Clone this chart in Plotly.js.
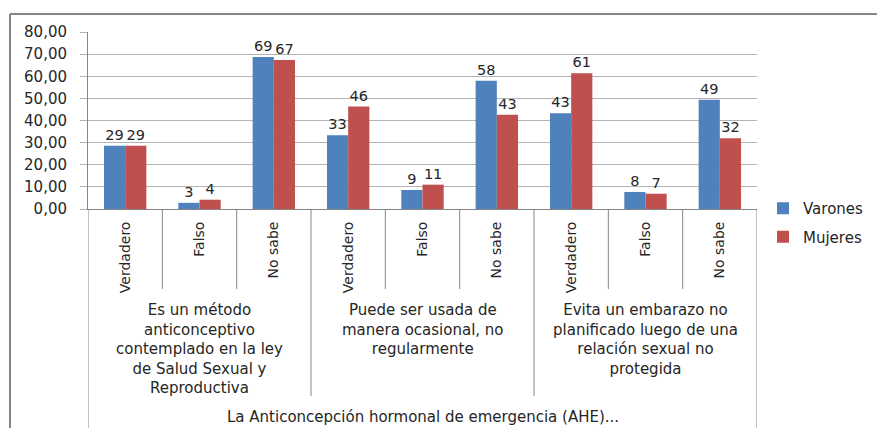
<!DOCTYPE html>
<html>
<head>
<meta charset="utf-8">
<script src="https://cdn.plot.ly/plotly-3.0.1.min.js"></script>
<style>html,body{margin:0;padding:0;background:#fff;}#chart{width:877px;height:428px;}</style>
</head>
<body>
<div id="chart"></div>
<script>
// ---- data ----
const subLabels = ['Verdadero', 'Falso', 'No sabe'];
const groupLabels = [
  'Es un método<br>anticonceptivo<br>contemplado en la ley<br>de Salud Sexual y<br>Reproductiva',
  'Puede ser usada de<br>manera ocasional, no<br>regularmente',
  'Evita un embarazo no<br>planificado luego de una<br>relación sexual no<br>protegida'
];
const outerLabel = 'La Anticoncepción hormonal de emergencia (AHE)...';
const seriesNames = ['Varones', 'Mujeres'];
const varones = [28.6, 2.8, 68.7, 33.3, 8.6, 58.0, 43.3, 7.7, 49.4];
const mujeres = [28.6, 4.2, 67.4, 46.3, 11.0, 42.6, 61.4, 6.9, 32.0];
const yTicks = [0, 10, 20, 30, 40, 50, 60, 70, 80];

// ---- derived ----
const n = subLabels.length * groupLabels.length;
const xIdx = Array.from({length: n}, (_, i) => i);
const tickText = xIdx.map(i => subLabels[i % subLabels.length]);
const yTickText = yTicks.map(v => v.toFixed(2).replace('.', ','));

const FONT = 'DejaVu Sans, Verdana, sans-serif';
const TXT = '#262626';
const AX = '#868686';
const GRID = '#b3b3b3';

// plot geometry (px) used for converting decoration into paper coords
const W = 877, H = 428, L = 88, R = 120, T = 32, B = 219;
const pw = W - L - R, ph = H - T - B;
const py = p => (H - B - p) / ph;   // pixel y -> paper y
const px = p => (p - L) / pw;       // pixel x -> paper x

const traces = [
  {type: 'bar', name: seriesNames[0], x: xIdx, y: varones, marker: {color: '#4F81BD'},
   legendgroup: 'a', text: varones.map(v => Math.round(v)), textposition: 'outside',
   textfont: {family: FONT, size: 14.5, color: TXT}, cliponaxis: false, hoverinfo: 'y'},
  {type: 'bar', name: seriesNames[1], x: xIdx, y: mujeres, marker: {color: '#C0504D'},
   legendgroup: 'b', text: mujeres.map(v => Math.round(v)), textposition: 'outside',
   textfont: {family: FONT, size: 14.5, color: TXT}, cliponaxis: false, hoverinfo: 'y'}
];

const shapes = [];
// dividers between categories
for (let k = 0; k <= n; k++) {
  const xv = k - 0.5;
  let yEnd;
  if (k === 0 || k === n) yEnd = py(430);
  else if (k % subLabels.length === 0) yEnd = py(396);
  else yEnd = py(289);
  shapes.push({type: 'line', xref: 'x', yref: 'paper', x0: xv, x1: xv, y0: 0, y1: yEnd,
               line: {color: AX, width: 1}});
}
// outer chart border (left and top)
shapes.push({type: 'line', xref: 'paper', yref: 'paper', x0: px(10), x1: px(10), y0: py(14), y1: py(430),
             line: {color: AX, width: 2}});
shapes.push({type: 'line', xref: 'paper', yref: 'paper', x0: px(10), x1: px(880), y0: py(14), y1: py(14),
             line: {color: AX, width: 2}});

const annotations = groupLabels.map((g, gi) => ({
  xref: 'x', yref: 'paper', x: gi * subLabels.length + (subLabels.length - 1) / 2, y: py(299),
  xanchor: 'center', yanchor: 'top', text: g, showarrow: false, align: 'center',
  font: {family: FONT, size: 15, color: TXT}
}));
annotations.push({xref: 'paper', yref: 'paper', x: 0.5, y: py(417), xanchor: 'center', yanchor: 'middle',
  text: outerLabel, showarrow: false, font: {family: FONT, size: 15, color: TXT}});

const layout = {
  width: W, height: H,
  margin: {l: L, r: R, t: T, b: B, pad: 0, autoexpand: false},
  paper_bgcolor: '#fff', plot_bgcolor: '#fff',
  barmode: 'group', bargap: 0.43, bargroupgap: 0,
  showlegend: true,
  legend: {x: px(763), y: py(192), xanchor: 'left', yanchor: 'top', traceorder: 'grouped',
           tracegroupgap: 6, itemwidth: 30, font: {family: FONT, size: 15, color: TXT},
           bgcolor: 'rgba(0,0,0,0)'},
  xaxis: {range: [-0.5, n - 0.5], tickmode: 'array', tickvals: xIdx, ticktext: tickText,
          tickangle: -90, tickfont: {family: FONT, size: 14, color: TXT}, ticks: '',
          showgrid: false, zeroline: false, showline: true, linecolor: AX, linewidth: 1,
          ticklabelstandoff: 6, fixedrange: true, automargin: false},
  yaxis: {range: [0, 80], tickmode: 'array', tickvals: yTicks, ticktext: yTickText,
          tickfont: {family: FONT, size: 15, color: TXT}, ticks: 'outside', ticklen: 7,
          tickcolor: GRID, showgrid: true, gridcolor: GRID, gridwidth: 1, zeroline: false,
          showline: true, linecolor: AX, linewidth: 1, ticklabelstandoff: 10, fixedrange: true,
          automargin: false},
  shapes: shapes,
  annotations: annotations,
  font: {family: FONT, color: TXT}
};

Plotly.newPlot('chart', traces, layout, {displayModeBar: false, staticPlot: true});
</script>
</body>
</html>
